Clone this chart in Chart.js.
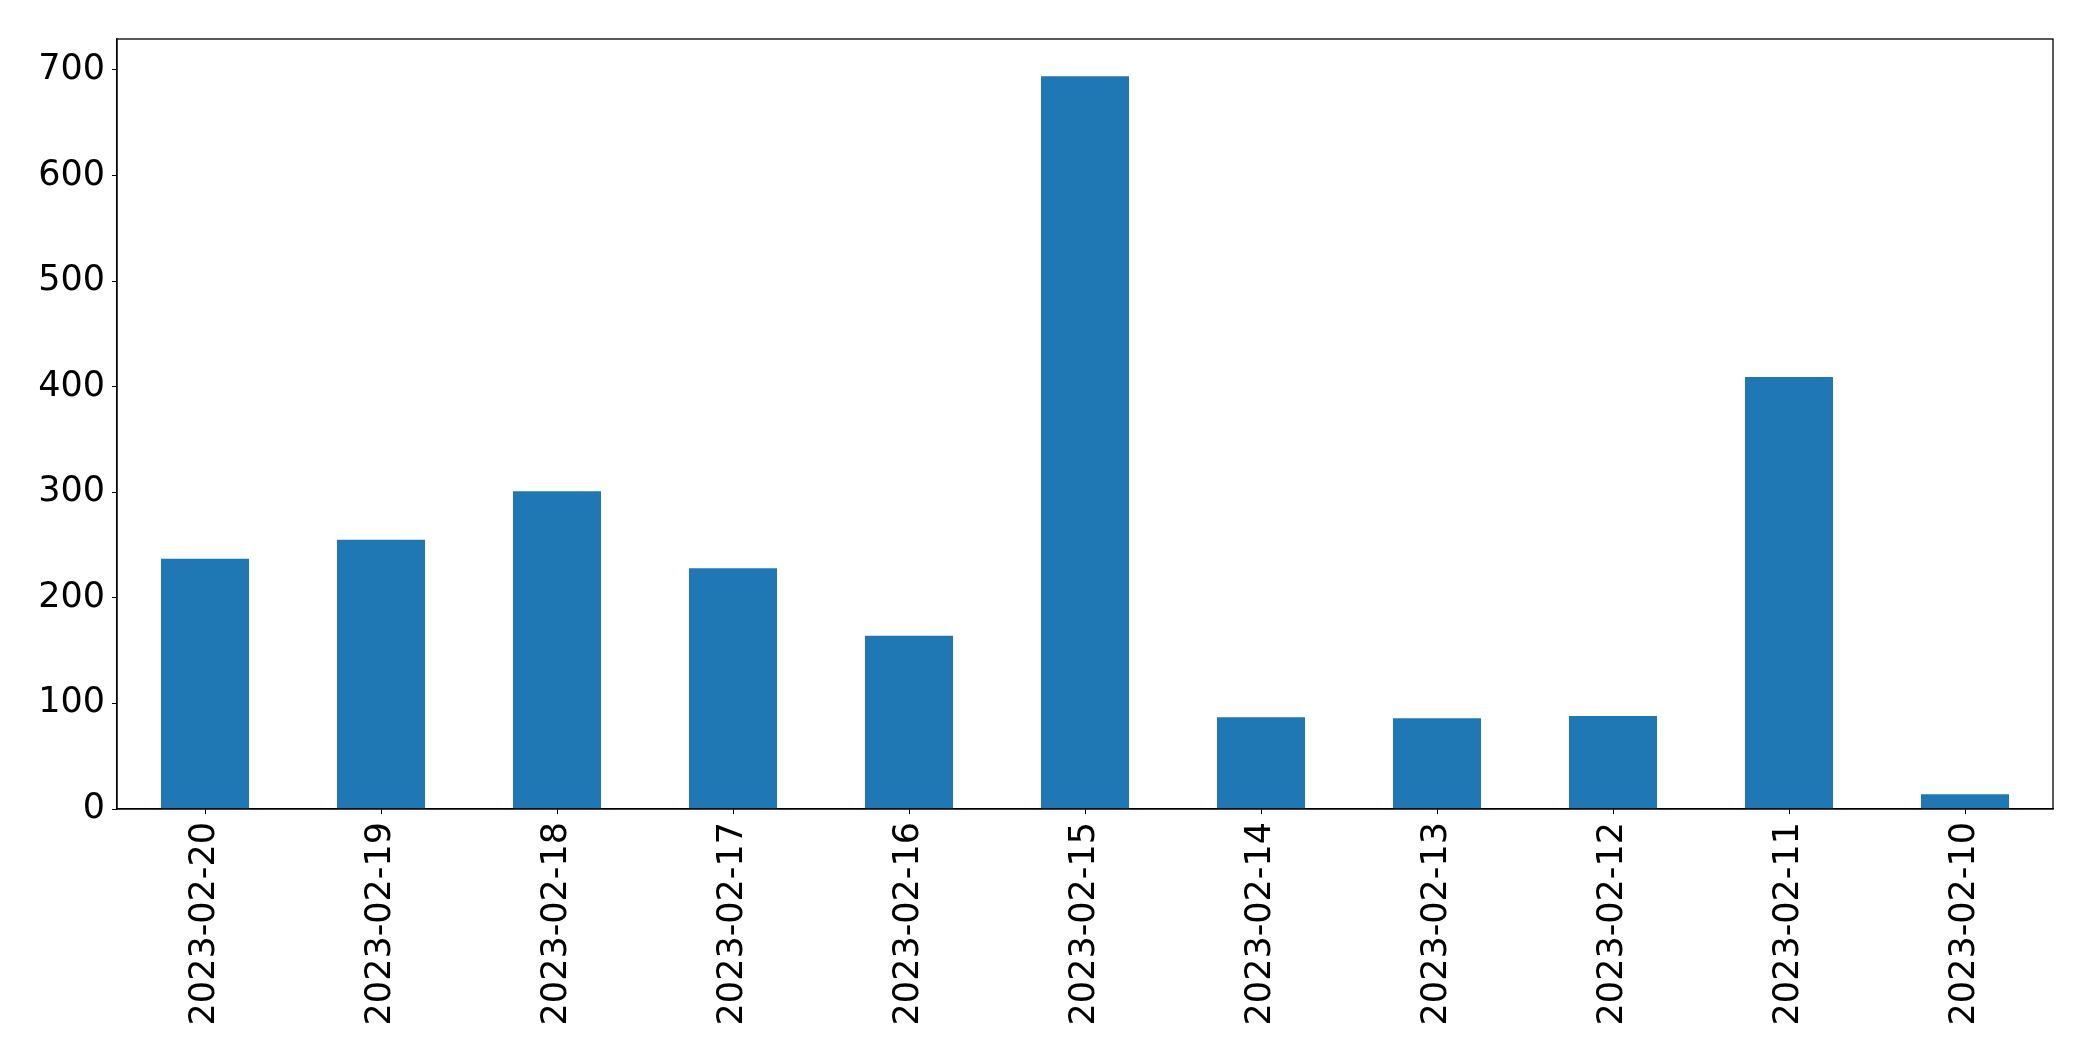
<!DOCTYPE html>
<html>
<head>
<meta charset="utf-8">
<script src="https://cdn.jsdelivr.net/npm/chart.js@4.4.0/dist/chart.umd.min.js"></script>
<style>
  html, body { margin: 0; padding: 0; background: #fff; }
  #wrap { width: 2093px; height: 1061px; }
</style>
</head>
<body>
<div id="wrap"><canvas id="chart" width="2093" height="1061"></canvas></div>
<script>
const dates = ['2023-02-20', '2023-02-19', '2023-02-18', '2023-02-17', '2023-02-16', '2023-02-15',
               '2023-02-14', '2023-02-13', '2023-02-12', '2023-02-11', '2023-02-10'];
const counts = [237, 255, 301, 228, 164, 694, 87, 86, 88, 409, 14];
const yTicks = [0, 100, 200, 300, 400, 500, 600, 700];

// box round the plot area, like matplotlib's spines
const frame = {
    id: 'frame',
    afterDraw(chart) {
        const a = chart.chartArea;
        const c = chart.ctx;
        c.save();
        c.strokeStyle = '#000';
        c.lineWidth = 1.3;
        c.strokeRect(a.left, a.top, a.right - a.left, a.bottom - a.top);
        c.restore();
    }
};

const tickFont = { family: 'DejaVu Sans', size: 35 };

new Chart(document.getElementById('chart'), {
    type: 'bar',
    data: {
        labels: dates,
        datasets: [{
            data: counts,
            backgroundColor: '#1f77b4',
            barPercentage: 0.5,
            categoryPercentage: 1.0
        }]
    },
    options: {
        responsive: false,
        animation: false,
        layout: { padding: { left: 0, top: 39, right: 40, bottom: 0 } },
        plugins: { legend: { display: false }, tooltip: { enabled: false } },
        scales: {
            x: {
                offset: true,
                grid: { display: true, offset: false, drawOnChartArea: false, drawTicks: true, tickLength: 5, color: '#000' },
                border: { display: true, color: '#000', width: 1.3 },
                ticks: { color: '#000', font: tickFont, minRotation: 90, maxRotation: 90, padding: 8, autoSkip: false },
                afterFit(scale) { scale.height = 252; }
            },
            y: {
                min: 0,
                max: 729.2,
                grid: { display: true, drawOnChartArea: false, drawTicks: true, tickLength: 5, color: '#000' },
                border: { display: true, color: '#000', width: 1.3 },
                ticks: { color: '#000', font: tickFont, padding: 7 },
                afterBuildTicks(scale) { scale.ticks = yTicks.map(v => ({ value: v })); },
                afterFit(scale) { scale.width = 117; }
            }
        }
    },
    plugins: [frame]
});
</script>
</body>
</html>
